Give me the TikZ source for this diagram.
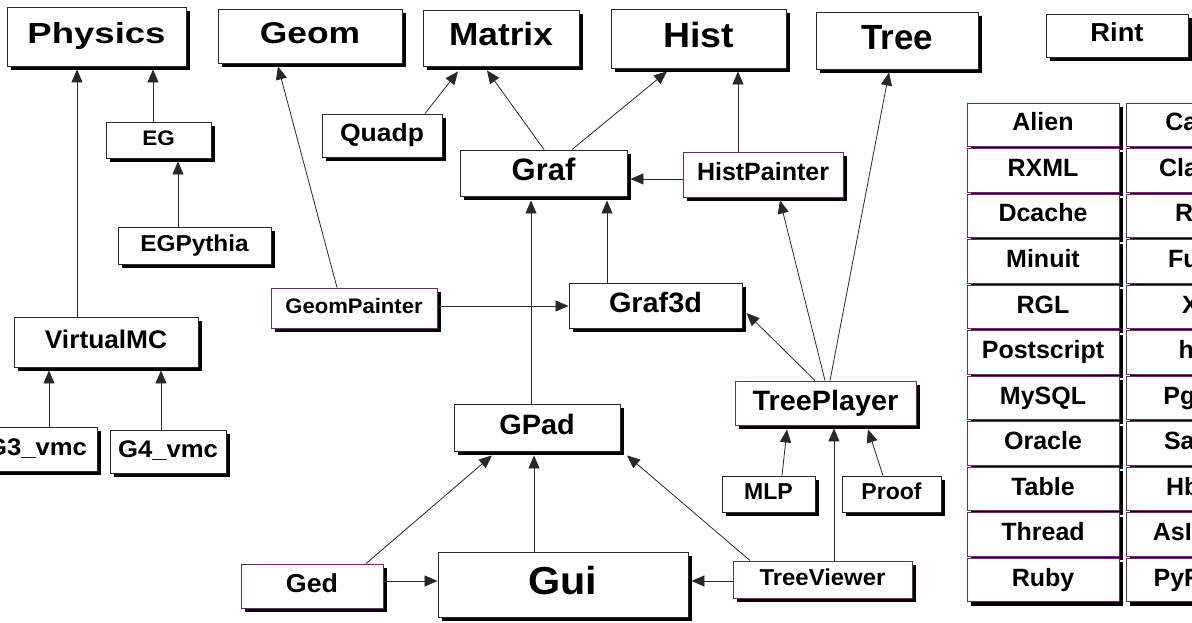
\documentclass[tikz,border=0pt]{standalone}
\usepackage{fontspec}
\setmainfont{Liberation Sans}
\usepackage{graphicx}
\usetikzlibrary{shadows,arrows.meta}
\definecolor{pbord}{RGB}{110,40,110}
\definecolor{lnc}{RGB}{40,40,40}
\newcommand\lbl[3]{\fontsize{#1}{#1}\selectfont\bfseries\raisebox{0pt}[0.75em][0.25em]{\scalebox{#2}[1]{#3}}}
\newcommand\bx[9]{\node[#1, minimum width={(#5-#3)*1pt}, minimum height={(#6-#4)*1pt}] (#2) at ({(#3+#5)/2},{(#4+#6)/2}) {\lbl{#7}{#8}{#9}};}
\tikzset{
  box/.style={draw=lnc, line width=0.9pt, fill=white, inner sep=0pt,
    drop shadow={shadow xshift=4pt, shadow yshift=-4pt, opacity=1, fill=black}},
  pbox/.style={box, draw=pbord},
  arr/.style={draw=lnc, line width=0.8pt, -{Triangle[length=13pt,width=11pt]}},
}
\begin{document}
\begin{tikzpicture}[x=1pt,y=-1pt]
\clip (0,0) rectangle (1192,623);
\fill[white] (0,0) rectangle (1192,623);
% top row
\bx{box}{phys}{7}{7}{186}{66}{29}{1.26}{Physics}
\bx{box}{geom}{218}{9}{402}{63}{30}{1.18}{Geom}
\bx{box}{matrix}{423}{10}{579}{66}{32}{1.1}{Matrix}
\bx{box}{hist}{611}{9}{786}{68}{35}{1.07}{Hist}
\bx{box}{tree}{816}{12}{978}{69}{35}{1.0}{Tree}
\bx{box}{rint}{1046}{14}{1188}{57}{26}{1.05}{Rint}
% middle
\bx{box}{eg}{106}{122}{211}{158}{21}{1.07}{EG}
\bx{box}{quadp}{322}{114}{442}{157}{25}{1.06}{Quadp}
\bx{box}{graf}{460}{150}{627}{196}{31}{1.0}{Graf}
\bx{pbox}{histp}{683}{152}{843}{197}{25}{1.0}{HistPainter}
\bx{box}{egp}{118}{227}{271}{264}{23}{1.06}{EGPythia}
\bx{pbox}{gp}{271}{288}{437}{328}{21}{1.05}{GeomPainter}
\bx{box}{vmc}{14}{317}{198}{367}{25.5}{1.03}{VirtualMC}
\bx{box}{g3d}{569}{283}{742}{328}{28}{1.03}{Graf3d}
\bx{pbox}{tp}{735}{381}{916}{425}{28}{1.03}{TreePlayer}
\bx{box}{gpad}{454}{404}{620}{451}{28}{1.03}{GPad}
\bx{box}{g3}{-23}{427}{97}{471}{24}{1.07}{G3\_vmc}
\bx{box}{g4}{110}{430}{226}{473}{24}{1.07}{G4\_vmc}
\bx{box}{mlp}{722}{476}{815}{512}{23}{1.0}{MLP}
\bx{box}{proof}{842}{476}{941}{512}{23}{1.0}{Proof}
\bx{pbox}{ged}{241}{564}{383}{608}{26}{1.03}{Ged}
\bx{box}{gui}{438}{552}{688}{617}{39}{1.06}{Gui}
\bx{pbox}{tv}{733}{561}{912}{598}{23}{1.04}{TreeViewer}
% table
\foreach \nm [count=\i] in {Alien,RXML,Dcache,Minuit,RGL,Postscript,MySQL,Oracle,Table,Thread,Ruby} {
  \node[pbox, minimum width=152pt, minimum height=43.5pt] (t\i) at (1043, {103+45.5*(\i-1)+21.75}) {\lbl{25}{1}{\nm}};
}
\foreach \nm [count=\i] in {Castor,Clarens,RFIO,Fumili,X3d,html,PgSQL,SapDB,Hbook,AsImage,PyROOT} {
  \node[pbox, minimum width=158pt, minimum height=43.5pt] (u\i) at (1205, {103+45.5*(\i-1)+21.75}) {\lbl{25}{1}{\nm}};
}
% connectors
\draw[arr] ([xshift=-29pt]vmc.north) -- ([xshift=-19.5pt,yshift=-3pt]phys.south);
\draw[arr] ([xshift=-5.5pt]eg.north) -- ([xshift=56.5pt,yshift=-3pt]phys.south);
\draw[arr] ([xshift=-16.5pt]egp.north) -- ([xshift=19.5pt,yshift=-3pt]eg.south);
\draw[arr] ([xshift=-17pt]gp.north) -- ([xshift=-32pt,yshift=-3pt]geom.south);
\draw[arr] ([xshift=43pt]quadp.north) -- ([xshift=-43pt,yshift=-5pt]matrix.south);
\draw[arr] ([xshift=0.5pt]graf.north) -- ([xshift=-14pt,yshift=-4pt]matrix.south);
\draw[arr] ([xshift=28.5pt]graf.north) -- ([xshift=-31.5pt,yshift=-3pt]hist.south);
\draw[arr] ([xshift=-25pt]histp.north) -- ([xshift=39.5pt,yshift=-3pt]hist.south);
\draw[arr] ([yshift=-4.5pt]histp.west) -- ([xshift=3pt,yshift=-6pt]graf.east);
\draw[arr] ([xshift=4.5pt]tp.north) -- ([xshift=-8pt,yshift=-3pt]tree.south);
\draw[arr] ([xshift=-0.5pt]tp.north) -- ([xshift=17pt,yshift=-3pt]histp.south);
\draw[arr] ([xshift=-10.5pt]tp.north) -- ([xshift=4pt,yshift=-7.5pt]g3d.east);
\draw[arr] ([xshift=-6pt]gpad.north) -- ([xshift=-12.5pt,yshift=-4pt]graf.south);
\draw[arr] ([xshift=-48.5pt]g3d.north) -- ([xshift=63.5pt,yshift=-4pt]graf.south);
\draw[arr] ([yshift=2pt]gp.east) -- ([yshift=-0.5pt]g3d.west);
\draw[arr] ([xshift=12pt]g3.north) -- ([xshift=-57pt,yshift=-3pt]vmc.south);
\draw[arr] ([xshift=-7pt]g4.north) -- ([xshift=55pt,yshift=-3pt]vmc.south);
\draw[arr] ([xshift=54pt]ged.north) -- ([xshift=-45pt,yshift=-4pt]gpad.south);
\draw[arr] ([xshift=-29pt]gui.north) -- ([xshift=-3pt,yshift=-4pt]gpad.south);
\draw[arr] ([xshift=-72.5pt]tv.north) -- ([xshift=90pt,yshift=-4pt]gpad.south);
\draw[arr] ([yshift=5pt]ged.east) -- ([yshift=3.5pt]gui.west);
\draw[arr] ([yshift=-1.5pt]tv.west) -- ([xshift=3pt,yshift=3.5pt]gui.east);
\draw[arr] ([xshift=11.5pt]tv.north) -- ([xshift=8.5pt,yshift=-3pt]tp.south);
\draw[arr] ([xshift=13.5pt]mlp.north) -- ([xshift=-38.5pt,yshift=-4pt]tp.south);
\draw[arr] ([xshift=-8.5pt]proof.north) -- ([xshift=42.5pt,yshift=-4pt]tp.south);
\end{tikzpicture}
\end{document}
